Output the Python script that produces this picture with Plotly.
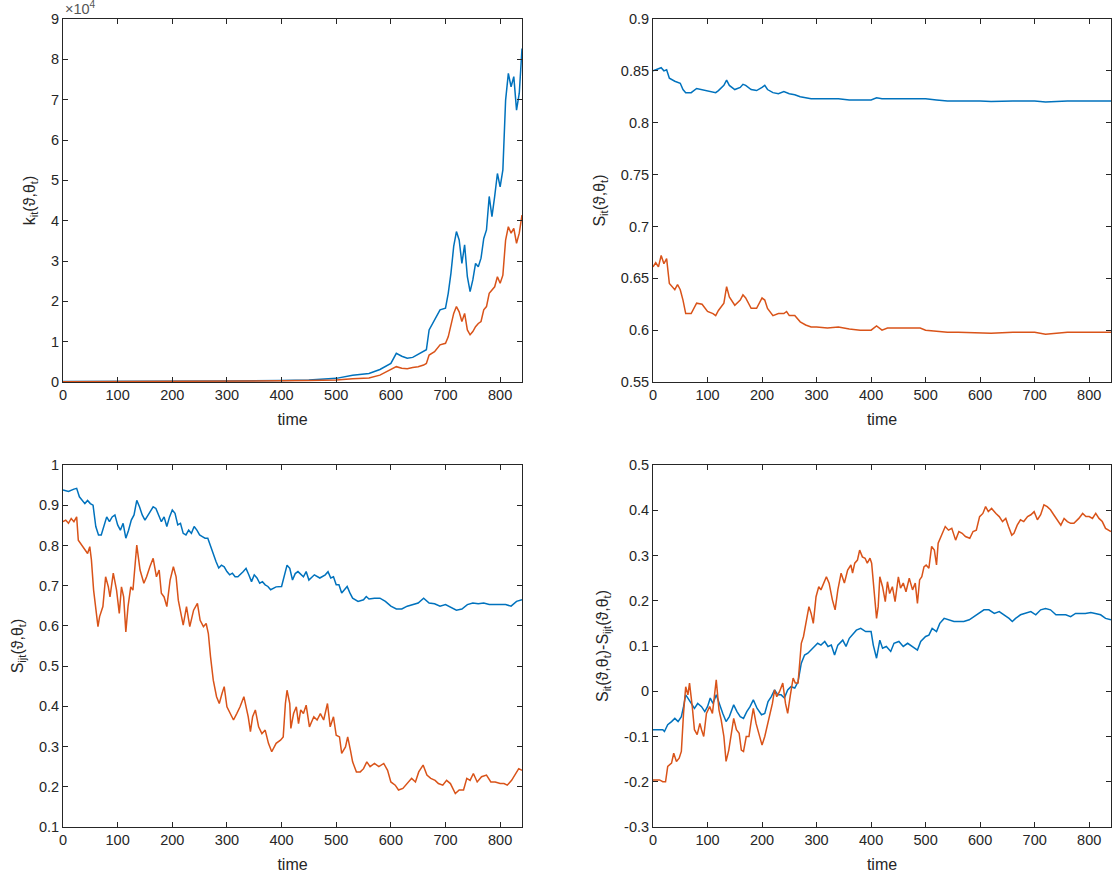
import plotly.graph_objects as go

# ---------------- data ----------------
# Panel 1: k_it (absolute values)
k_t = [0,100,200,300,400,450,500,530,560,580,600,610,620,630,640,650,660,665,670,680,690,700,705,710,715,720,725,730,735,740,745,750,755,760,765,770,775,780,785,790,795,800,805,810,815,820,825,830,835,840]
k_blue = [100,120,150,250,400,500,900,1700,2100,3100,4600,7100,6400,5900,6100,6900,7500,8000,12900,15400,17900,18300,22000,27000,33600,37300,35200,29400,34000,26100,22400,25300,29400,28600,30700,35600,37700,46000,41000,46000,51700,48400,52600,69900,76500,73200,75700,67400,71600,82700]
k_orange = [80,90,110,180,280,350,500,800,1000,1700,3100,3800,3400,3300,3600,3800,4200,4600,6700,7500,9200,9600,11200,14100,17000,18700,17400,15000,17000,12900,11700,12500,13700,14500,15000,17900,18700,22000,22800,23600,26100,24500,26500,35200,38500,36900,38100,34400,36900,41400]

# Panel 2: S_it
sit_blue_t = [0,5,10,15,20,25,30,40,50,55,60,70,80,90,100,110,115,120,130,135,140,150,160,165,170,180,190,200,205,210,220,230,240,250,260,270,280,290,300,320,340,360,380,400,410,420,450,480,500,520,540,600,620,660,700,720,760,800,840]
sit_blue = [0.85,0.851,0.852,0.853,0.85,0.851,0.843,0.84,0.838,0.832,0.829,0.829,0.833,0.832,0.831,0.83,0.829,0.831,0.836,0.841,0.836,0.832,0.834,0.837,0.836,0.832,0.831,0.834,0.836,0.832,0.829,0.828,0.83,0.828,0.827,0.825,0.824,0.823,0.823,0.823,0.823,0.822,0.822,0.822,0.824,0.823,0.823,0.823,0.823,0.822,0.821,0.821,0.8205,0.821,0.821,0.820,0.821,0.821,0.821]
sit_orange_t = [0,5,10,15,20,25,30,35,40,45,50,55,60,70,80,90,100,110,115,120,130,135,140,150,160,165,170,180,190,200,205,210,220,230,240,245,250,260,270,280,290,300,320,340,360,380,400,410,420,430,450,480,490,500,520,540,560,600,620,660,700,720,760,800,840]
sit_orange = [0.661,0.665,0.661,0.672,0.664,0.669,0.645,0.642,0.639,0.644,0.639,0.629,0.616,0.616,0.626,0.625,0.618,0.616,0.614,0.619,0.626,0.642,0.632,0.624,0.629,0.634,0.631,0.621,0.621,0.631,0.629,0.621,0.614,0.616,0.616,0.618,0.614,0.614,0.608,0.605,0.603,0.603,0.602,0.603,0.601,0.6,0.6,0.604,0.6,0.602,0.602,0.602,0.602,0.6,0.599,0.598,0.598,0.597,0.597,0.598,0.598,0.596,0.598,0.598,0.598]

# Panel 3: S_ijt
sijt_blue_t = [0,10,20,25,30,40,45,50,55,60,65,70,80,85,90,95,100,105,110,115,120,125,130,135,140,145,150,160,165,170,175,180,185,190,195,200,205,210,215,220,225,230,235,240,245,250,255,260,265,270,275,280,285,290,295,300,305,310,315,320,330,335,340,345,350,355,360,365,370,375,380,390,400,405,410,415,420,425,430,440,445,450,460,470,480,485,490,495,500,505,510,515,520,525,530,540,550,555,560,570,580,590,600,610,620,630,640,650,660,670,680,690,700,710,720,730,740,750,760,770,780,790,800,810,820,830,840]
sijt_blue = [0.938,0.934,0.94,0.942,0.921,0.904,0.912,0.904,0.9,0.847,0.826,0.826,0.871,0.859,0.871,0.876,0.851,0.838,0.855,0.818,0.838,0.863,0.876,0.912,0.896,0.876,0.863,0.884,0.896,0.892,0.876,0.859,0.871,0.847,0.871,0.888,0.88,0.851,0.855,0.83,0.826,0.838,0.83,0.847,0.838,0.826,0.822,0.818,0.818,0.797,0.781,0.76,0.744,0.751,0.747,0.735,0.727,0.731,0.722,0.722,0.735,0.743,0.727,0.71,0.727,0.719,0.706,0.71,0.702,0.698,0.69,0.697,0.698,0.722,0.751,0.743,0.714,0.73,0.735,0.722,0.735,0.714,0.727,0.719,0.727,0.735,0.719,0.722,0.702,0.702,0.682,0.69,0.698,0.682,0.669,0.661,0.665,0.673,0.667,0.669,0.669,0.661,0.649,0.642,0.642,0.649,0.653,0.657,0.669,0.657,0.655,0.649,0.653,0.645,0.639,0.642,0.653,0.657,0.655,0.657,0.653,0.653,0.653,0.653,0.649,0.661,0.665]
sijt_orange_t = [0,5,10,15,20,25,28,34,40,45,49,52,56,61,64,67,73,78,83,86,92,98,103,107,111,115,119,124,128,135,141,148,153,159,165,171,176,180,185,190,196,202,207,211,217,220,226,232,239,246,251,257,262,266,270,275,281,286,291,295,300,306,312,318,324,331,339,343,347,352,358,364,370,376,382,390,398,403,407,410,415,417,422,427,431,435,440,445,451,459,465,471,477,484,489,495,500,506,510,517,521,526,530,537,544,550,556,562,570,578,587,594,600,608,614,622,629,638,645,651,659,666,673,681,687,695,702,709,718,725,733,739,745,751,758,766,775,783,791,800,807,813,821,829,834,840]
sijt_orange = [0.859,0.863,0.855,0.867,0.859,0.871,0.813,0.801,0.789,0.780,0.797,0.764,0.689,0.623,0.598,0.623,0.648,0.722,0.697,0.672,0.731,0.689,0.631,0.697,0.672,0.585,0.648,0.697,0.689,0.801,0.739,0.706,0.722,0.747,0.768,0.722,0.739,0.681,0.672,0.648,0.714,0.747,0.722,0.664,0.623,0.602,0.648,0.598,0.639,0.656,0.614,0.598,0.606,0.581,0.523,0.465,0.424,0.407,0.432,0.449,0.399,0.382,0.366,0.382,0.399,0.424,0.374,0.337,0.374,0.391,0.349,0.332,0.341,0.308,0.287,0.308,0.316,0.324,0.407,0.440,0.407,0.345,0.382,0.399,0.357,0.391,0.382,0.403,0.349,0.374,0.366,0.382,0.366,0.407,0.349,0.374,0.328,0.324,0.283,0.299,0.324,0.291,0.262,0.237,0.237,0.245,0.262,0.250,0.258,0.250,0.258,0.241,0.212,0.204,0.192,0.196,0.208,0.221,0.212,0.237,0.254,0.229,0.221,0.216,0.208,0.204,0.216,0.208,0.183,0.192,0.192,0.221,0.216,0.233,0.212,0.225,0.229,0.212,0.212,0.208,0.208,0.204,0.216,0.233,0.245,0.241]

# Panel 4: S_it - S_ijt
diff_blue_t = [0,12,18,21,27,34,40,46,52,56,60,64,70,76,82,89,95,100,105,110,116,122,128,134,140,148,154,160,166,172,178,184,191,199,205,211,217,223,229,235,241,247,253,260,266,272,278,284,290,296,302,308,315,321,327,333,339,348,354,360,367,373,381,390,400,404,410,416,421,428,436,442,451,459,467,476,485,491,500,506,512,520,526,534,543,552,561,570,580,589,598,607,616,626,635,644,653,659,665,674,684,693,702,711,720,729,739,748,757,766,775,784,793,803,812,821,830,840]
diff_blue = [-0.085,-0.085,-0.085,-0.089,-0.074,-0.067,-0.06,-0.067,-0.056,-0.034,-0.008,-0.015,-0.027,-0.038,-0.027,-0.034,-0.045,-0.034,-0.015,-0.027,-0.008,-0.03,-0.049,-0.067,-0.056,-0.03,-0.045,-0.056,-0.06,-0.045,-0.034,-0.019,-0.038,-0.052,-0.049,-0.023,-0.012,0.003,-0.008,-0.008,-0.015,0.003,0.01,0.007,0.021,0.062,0.08,0.084,0.091,0.099,0.106,0.102,0.11,0.099,0.102,0.08,0.102,0.113,0.099,0.117,0.128,0.135,0.139,0.132,0.132,0.102,0.073,0.113,0.095,0.099,0.088,0.106,0.11,0.099,0.106,0.099,0.091,0.11,0.121,0.124,0.139,0.132,0.15,0.161,0.158,0.154,0.154,0.154,0.158,0.165,0.172,0.18,0.18,0.172,0.176,0.169,0.161,0.154,0.161,0.169,0.172,0.176,0.169,0.18,0.183,0.18,0.169,0.169,0.169,0.165,0.172,0.172,0.172,0.174,0.172,0.169,0.161,0.158]
diff_orange_t = [0,12,18,23,27,34,38,43,48,52,56,60,64,67,72,76,81,86,89,93,98,104,109,113,116,121,125,130,134,139,144,148,153,158,162,166,171,176,180,184,189,195,200,205,209,214,219,223,227,232,238,243,247,252,257,261,266,269,272,276,281,286,290,294,299,304,308,313,318,323,329,334,339,345,351,357,363,366,370,375,379,384,389,393,398,401,404,407,410,413,416,421,426,430,434,439,444,450,454,459,464,470,476,481,485,489,493,497,501,506,511,516,520,523,530,536,542,548,555,561,567,573,581,587,593,599,605,610,615,621,629,635,641,647,652,658,662,668,674,680,687,693,699,705,711,717,723,729,735,741,748,754,760,766,772,781,788,794,800,806,812,818,824,830,840]
diff_orange = [-0.196,-0.196,-0.2,-0.2,-0.166,-0.159,-0.137,-0.155,-0.148,-0.133,-0.049,0.01,-0.008,0.018,-0.034,-0.085,-0.096,-0.071,-0.085,-0.1,-0.049,-0.034,-0.049,-0.008,0.025,-0.041,-0.063,-0.1,-0.155,-0.13,-0.093,-0.06,-0.085,-0.093,-0.13,-0.133,-0.1,-0.1,-0.067,-0.038,-0.071,-0.1,-0.119,-0.1,-0.078,-0.049,-0.027,0.003,-0.012,-0.001,0.018,-0.027,-0.049,-0.008,0.029,0.018,0.018,0.062,0.106,0.121,0.15,0.187,0.172,0.15,0.209,0.231,0.224,0.239,0.253,0.239,0.202,0.18,0.224,0.261,0.239,0.268,0.279,0.261,0.283,0.29,0.312,0.297,0.294,0.283,0.294,0.283,0.246,0.202,0.161,0.187,0.253,0.231,0.198,0.242,0.216,0.231,0.198,0.253,0.228,0.239,0.22,0.25,0.224,0.239,0.194,0.246,0.253,0.275,0.279,0.272,0.32,0.312,0.279,0.327,0.345,0.364,0.356,0.36,0.334,0.353,0.349,0.342,0.338,0.353,0.356,0.386,0.393,0.408,0.397,0.404,0.393,0.386,0.375,0.382,0.364,0.345,0.349,0.367,0.379,0.375,0.386,0.39,0.397,0.379,0.39,0.412,0.408,0.401,0.39,0.379,0.367,0.382,0.375,0.371,0.371,0.382,0.393,0.386,0.386,0.382,0.393,0.382,0.375,0.36,0.353]

x_ticks = [0,100,200,300,400,500,600,700,800]
k_tickvals = [0,10000,20000,30000,40000,50000,60000,70000,80000,90000]
k_ticktext = ["0","1","2","3","4","5","6","7","8","9"]
d_tickvals = [-0.3,-0.2,-0.1,0,0.1,0.2,0.3,0.4,0.5]
d_ticktext = ["-0.3","-0.2","-0.1","0","0.1","0.2","0.3","0.4","0.5"]

BLUE = "#0072BD"
ORANGE = "#D95319"
AX = "#262626"
FONT = "Liberation Sans, Arial, sans-serif"
TICK_SIZE = 14.5
TITLE_SIZE = 16

fig = go.Figure()

def add(x, y, color, xa, ya):
    fig.add_trace(go.Scatter(x=x, y=y, mode="lines", line=dict(color=color, width=1.5),
                             xaxis=xa, yaxis=ya, showlegend=False, hoverinfo="skip"))

add(k_t, k_blue, BLUE, "x", "y")
add(k_t, k_orange, ORANGE, "x", "y")
add(sit_blue_t, sit_blue, BLUE, "x2", "y2")
add(sit_orange_t, sit_orange, ORANGE, "x2", "y2")
add(sijt_blue_t, sijt_blue, BLUE, "x3", "y3")
add(sijt_orange_t, sijt_orange, ORANGE, "x3", "y3")
add(diff_blue_t, diff_blue, BLUE, "x4", "y4")
add(diff_orange_t, diff_orange, ORANGE, "x4", "y4")

W, H = 1114, 877
ML, MR, MT, MB = 63, 3, 19, 50
pw, ph = W - ML - MR, H - MT - MB
xdom = [[0, (522 - ML) / pw], [(653 - ML) / pw, 1.0]]
ydom_top = [(827 - 382) / ph, 1.0]
ydom_bot = [0, (827 - 465) / ph]

def xax(dom, anchor):
    return dict(domain=dom, anchor=anchor, range=[0, 840], tickvals=x_ticks,
                showline=True, linecolor=AX, linewidth=1, mirror="ticks",
                ticks="inside", ticklen=5, tickcolor=AX, showgrid=False, zeroline=False,
                tickfont=dict(family=FONT, size=TICK_SIZE, color=AX),
                title=dict(text="time", font=dict(family=FONT, size=TITLE_SIZE, color=AX), standoff=11))

def yax(dom, anchor, rng, title, **kw):
    d = dict(domain=dom, anchor=anchor, range=rng,
             showline=True, linecolor=AX, linewidth=1, mirror="ticks",
             ticks="inside", ticklen=5, tickcolor=AX, showgrid=False, zeroline=False,
             tickfont=dict(family=FONT, size=TICK_SIZE, color=AX),
             title=dict(text=title, font=dict(family=FONT, size=TITLE_SIZE, color=AX), standoff=11))
    d.update(kw)
    return d

fig.update_layout(
    width=W, height=H,
    margin=dict(l=ML, r=MR, t=MT, b=MB),
    paper_bgcolor="white", plot_bgcolor="white",
    xaxis=xax(xdom[0], "y"),
    xaxis2=xax(xdom[1], "y2"),
    xaxis3=xax(xdom[0], "y3"),
    xaxis4=xax(xdom[1], "y4"),
    yaxis=yax(ydom_top, "x", [0, 90000], "k<sub>it</sub>(ϑ,θ<sub>t</sub>)",
              tickvals=k_tickvals, ticktext=k_ticktext),
    yaxis2=yax(ydom_top, "x2", [0.55, 0.9], "S<sub>it</sub>(ϑ,θ<sub>t</sub>)", dtick=0.05, tick0=0.55),
    yaxis3=yax(ydom_bot, "x3", [0.1, 1.0], "S<sub>ijt</sub>(ϑ,θ<sub>t</sub>)", dtick=0.1, tick0=0.1),
    yaxis4=yax(ydom_bot, "x4", [-0.3, 0.5],
               "S<sub>it</sub>(ϑ,θ<sub>t</sub>)-S<sub>ijt</sub>(ϑ,θ<sub>t</sub>)",
               tickvals=d_tickvals, ticktext=d_ticktext),
    annotations=[dict(text="×10<sup>4</sup>", xref="x domain", yref="y domain", x=0, y=1,
                      xanchor="left", yanchor="bottom", showarrow=False,
                      font=dict(family=FONT, size=14.5, color="#555555"))],
)

fig.write_html("out.html", config={"displayModeBar": False},
               post_script="document.body.style.margin='0';")
